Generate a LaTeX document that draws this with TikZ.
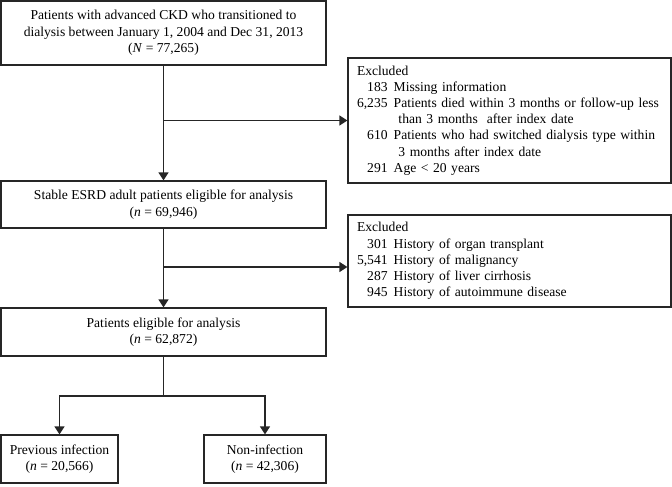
\documentclass[tikz,border=0pt]{standalone}
\usepackage{fontspec}
\setmainfont{Liberation Serif}
\usetikzlibrary{arrows.meta}
\tikzset{
  box/.style={draw=black!85, line width=1.2pt, align=center, inner sep=0pt,
    font=\fontsize{13.6pt}{16.5pt}\selectfont},
  exbox/.style={draw=black!85, line width=1.2pt, align=left, inner xsep=9pt, inner ysep=0pt,
    minimum width=323pt, text width=305pt,
    font=\fontsize{13.6pt}{16.2pt}\selectfont},
  conn/.style={draw=black!85, line width=1.2pt},
  arr/.style={conn, -{Triangle[length=8pt,width=10pt]}}
}
\newcommand{\exl}[2]{\makebox[2.25em][r]{#1}\hspace{0.45em}#2}
\newcommand{\exc}[1]{\hspace{3.05em}#1}
\begin{document}
\begin{tikzpicture}[x=1pt,y=-1pt]
\useasboundingbox (0,0) rectangle (672,487);
\node[box, minimum width=325pt, minimum height=64pt] (b1) at (163.5,33)
  {Patients with advanced CKD who transitioned to\\
   dialysis between January 1, 2004 and Dec 31, 2013\\
   (\textit{N} = 77,265)};
\node[box, minimum width=325pt, minimum height=47pt] (b2) at (163.5,204.5)
  {Stable ESRD adult patients eligible for analysis\\(\textit{n} = 69,946)};
\node[box, minimum width=325pt, minimum height=48pt] (b3) at (163.5,332)
  {Patients eligible for analysis\\(\textit{n} = 62,872)};
\node[box, minimum width=117pt, minimum height=48pt] (b4) at (59.5,459)
  {Previous infection\\(\textit{n} = 20,566)};
\node[box, minimum width=122pt, minimum height=48pt] (b5) at (265,459)
  {Non-infection\\(\textit{n} = 42,306)};
\node[exbox, minimum height=125pt] (e1) at (509.5,120.5)
  {Excluded\\
   \exl{183}{Missing information}\\
   \exl{6,235}{Patients died within 3 months or follow-up less}\\
   \exc{than 3 months\ \ after index date}\\
   \exl{610}{Patients who had switched dialysis type within}\\
   \exc{3 months after index date}\\
   \exl{291}{Age < 20 years}};
\node[exbox, minimum height=92pt] (e2) at (509.5,261)
  {Excluded\\
   \exl{301}{History of organ transplant}\\
   \exl{5,541}{History of malignancy}\\
   \exl{287}{History of liver cirrhosis}\\
   \exl{945}{History of autoimmune disease}};
\coordinate (j1) at (b1.south |- e1.west);
\coordinate (j2) at (163.5,267);
\coordinate (sp) at (163.5,396);
\draw[arr] (b1.south) -- (b2.north);
\draw[arr] (j1) -- (e1.west);
\draw[arr] (b2.south) -- (b3.north);
\draw[arr] (j2) -- (j2 -| e2.west);
\draw[conn] (b3.south) -- (sp);
\draw[arr] (sp) -| (b4.north);
\draw[arr] (sp) -| (b5.north);
\end{tikzpicture}
\end{document}
